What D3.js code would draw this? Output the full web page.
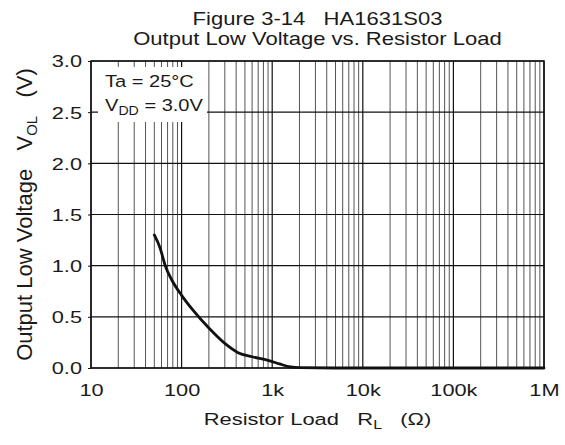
<!DOCTYPE html>
<html>
<head>
<meta charset="utf-8">
<script src="https://cdn.jsdelivr.net/npm/d3@7"></script>
<style>
  html, body { margin: 0; padding: 0; background: #fff; }
  svg { display: block; }
  text { font-family: "Liberation Sans", Arial, Helvetica, sans-serif; fill: #1a1a1a; white-space: pre; }
</style>
</head>
<body>
<svg id="chart" width="565" height="445"></svg>
<script>
// ---- data ----
const titleLines = ["Figure 3-14   HA1631S03", "Output Low Voltage vs. Resistor Load"];
const resistance = [50, 58, 66, 78, 100, 135, 200, 300, 420, 600, 900, 1200, 1600, 2000, 5000, 10000, 100000, 1000000];
const vol        = [1.30, 1.17, 1.00, 0.86, 0.71, 0.56, 0.39, 0.24, 0.15, 0.11, 0.075, 0.04, 0.01, 0.003, 0.0, 0.0, 0.0, 0.0];
const xTickValues = [10, 100, 1000, 10000, 100000, 1000000];
const xTickLabels = ["10", "100", "1k", "10k", "100k", "1M"];
const yTickValues = [0, 0.5, 1.0, 1.5, 2.0, 2.5, 3.0];
const legendLines = ["Ta = 25°C", "VDD = 3.0V"];

// ---- helpers ----
function widen(sel, sx) {
  sel.each(function () {
    const t = d3.select(this);
    const x0 = +(t.attr("x") || 0);
    const prev = t.attr("transform") || "";
    t.attr("x", x0 / sx).attr("transform", prev + ` scale(${sx},1)`);
  });
}

// ---- layout ----
const svg = d3.select("#chart");
const m = { left: 91, right: 544, top: 61, bottom: 368 };
const x = d3.scaleLog().domain([10, 1e6]).range([m.left, m.right]);
const y = d3.scaleLinear().domain([0, 3]).range([m.bottom, m.top]);

// minor gridlines
const minor = [];
for (let d = 10; d < 1e6; d *= 10) {
  for (let k = 2; k <= 9; k++) minor.push(d * k);
}
svg.append("g").selectAll("line").data(minor).join("line")
  .attr("x1", d => x(d)).attr("x2", d => x(d))
  .attr("y1", m.top).attr("y2", m.bottom)
  .attr("stroke", "#555").attr("stroke-width", 1);

// major gridlines
svg.append("g").selectAll("line").data(xTickValues).join("line")
  .attr("x1", d => x(d)).attr("x2", d => x(d))
  .attr("y1", m.top).attr("y2", m.bottom)
  .attr("stroke", "#111").attr("stroke-width", 1.2);

svg.append("g").selectAll("line").data(yTickValues).join("line")
  .attr("x1", m.left).attr("x2", m.right)
  .attr("y1", d => y(d)).attr("y2", d => y(d))
  .attr("stroke", "#111").attr("stroke-width", 1.2);

// legend box (white, covering gridlines)
svg.append("rect").attr("x", 98).attr("y", 67).attr("width", 109).attr("height", 55).attr("fill", "#fff");
const lg = svg.append("g").attr("font-size", 17);
lg.append("text").attr("x", 105).attr("y", 87).text(legendLines[0]);
const l2 = lg.append("text").attr("x", 105).attr("y", 111.5);
l2.append("tspan").text("V");
l2.append("tspan").attr("font-size", 12).attr("dy", 4).text("DD");
l2.append("tspan").attr("dy", -4).text(" = 3.0V");
widen(lg.selectAll("text"), 1.18);

// frame
svg.append("rect").attr("x", m.left).attr("y", m.top)
  .attr("width", m.right - m.left).attr("height", m.bottom - m.top)
  .attr("fill", "none").attr("stroke", "#111").attr("stroke-width", 1.5);

// axes
const yAxis = d3.axisLeft(y).tickValues(yTickValues).tickFormat(d3.format(".1f")).tickSize(3).tickPadding(6);
const gy = svg.append("g").attr("transform", `translate(${m.left},0)`).call(yAxis);
gy.select(".domain").remove();
gy.selectAll("text").attr("font-size", 16.5).attr("font-family", "Liberation Sans, Arial, sans-serif").attr("fill", "#1a1a1a").attr("dy", "0.36em");
gy.selectAll("line").attr("stroke", "#111");
widen(gy.selectAll("text"), 1.32);

const xAxis = d3.axisBottom(x).tickValues(xTickValues).tickFormat((d, i) => xTickLabels[i]).tickSize(0).tickPadding(16);
const gx = svg.append("g").attr("transform", `translate(0,${m.bottom})`).call(xAxis);
gx.select(".domain").remove();
gx.selectAll("text").attr("font-size", 16.5).attr("font-family", "Liberation Sans, Arial, sans-serif").attr("fill", "#1a1a1a");
widen(gx.selectAll("text"), 1.32);

// curve
const line = d3.line().x(d => x(d[0])).y(d => y(d[1])).curve(d3.curveMonotoneX);
svg.append("path").datum(resistance.map((r, i) => [r, vol[i]]))
  .attr("d", line).attr("fill", "none").attr("stroke", "#111").attr("stroke-width", 2.8)
  .attr("stroke-linejoin", "round").attr("stroke-linecap", "round");

// title
const tg = svg.append("g").attr("font-size", 17.5).attr("text-anchor", "middle");
tg.selectAll("text").data(titleLines).join("text")
  .attr("x", (m.left + m.right) / 2).attr("y", (d, i) => 25 + i * 20.5).text(d => d);
widen(tg.selectAll("text"), 1.26);

// x axis title
const xt = svg.append("text").attr("x", (m.left + m.right) / 2).attr("y", 425)
  .attr("text-anchor", "middle").attr("font-size", 16.5);
xt.append("tspan").text("Resistor Load   R");
xt.append("tspan").attr("font-size", 12).attr("dy", 4).text("L");
xt.append("tspan").attr("dy", -4).text("   (Ω)");
widen(xt, 1.33);

// y axis title
const yt = svg.append("text").attr("transform", `translate(32,${(m.top + m.bottom) / 2}) rotate(-90)`)
  .attr("text-anchor", "middle").attr("font-size", 22);
yt.append("tspan").text("Output Low Voltage   V");
yt.append("tspan").attr("font-size", 15).attr("dy", 5).text("OL");
yt.append("tspan").attr("dy", -5).text("   (V)");
</script>
</body>
</html>
